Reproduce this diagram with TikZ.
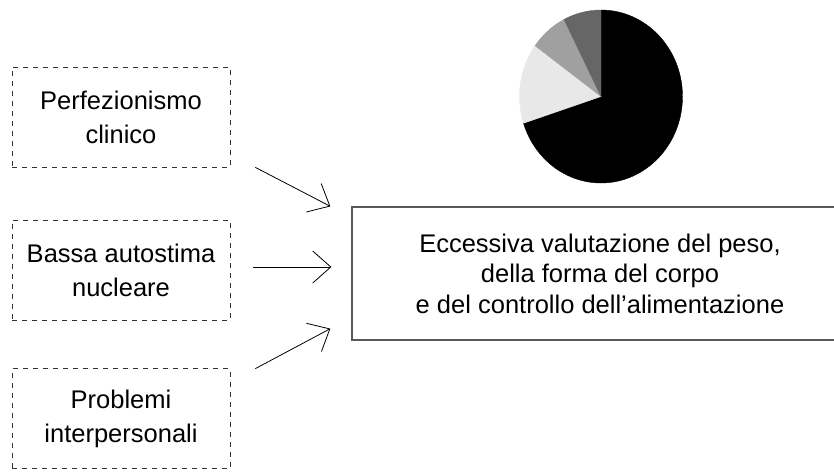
\documentclass[tikz,border=0pt]{standalone}
\usepackage{fontspec}
\setmainfont{Liberation Sans}
\usepackage{xcolor}
\usetikzlibrary{calc, arrows.meta}

\definecolor{sliceA}{HTML}{000000}
\definecolor{sliceB}{HTML}{E8E8E8}
\definecolor{sliceC}{HTML}{A0A0A0}
\definecolor{sliceD}{HTML}{666666}

\tikzset{
	causebox/.style = {draw = black!80, dash pattern = on 5pt off 5pt, line width = 0.8pt,
		minimum width = 218pt, minimum height = 100pt, align = center, inner sep = 0pt,
		font = \fontsize{25.5}{34}\selectfont},
	mainbox/.style = {draw = black!65, line width = 1.3pt,
		minimum width = 496pt, minimum height = 133pt, align = center, inner sep = 0pt,
		font = \fontsize{25.5}{30.5}\selectfont},
	arr/.style = {-{Straight Barb[length = 18pt, width = 32pt]}, line width = 0.8pt}
}

\begin{document}
\begin{tikzpicture}[x = 1pt, y = -1pt]
		\def\cx{601};
		\def\cy{96.5};
		\def\rx{81.5};
		\def\ry{86.5};
		
		\useasboundingbox (0,0) rectangle (834,471);
		
		% torta
		\filldraw [sliceA] (\cx,\cy) -- ({\cx + \rx*cos(90)},{\cy - \ry*sin(90)}) arc [start angle = 90, end angle = -162, x radius = \rx, y radius = -\ry] -- cycle;
		\filldraw [sliceB] (\cx,\cy) -- ({\cx + \rx*cos(198)},{\cy - \ry*sin(198)}) arc [start angle = 198, end angle = 144, x radius = \rx, y radius = -\ry] -- cycle;
		\filldraw [sliceC] (\cx,\cy) -- ({\cx + \rx*cos(144)},{\cy - \ry*sin(144)}) arc [start angle = 144, end angle = 117, x radius = \rx, y radius = -\ry] -- cycle;
		\filldraw [sliceD] (\cx,\cy) -- ({\cx + \rx*cos(117)},{\cy - \ry*sin(117)}) arc [start angle = 117, end angle = 90, x radius = \rx, y radius = -\ry] -- cycle;
		
		\node [causebox] (perf) at (121,117) {Perfezionismo\\clinico};
		\node [causebox] (bassa) at (121,270) {Bassa autostima\\nucleare};
		\node [causebox] (probl) at (121,418.5) {Problemi\\interpersonali};
		
		\node [mainbox] (main) at (600,273.5) {Eccessiva valutazione del peso,\\della forma del corpo\\e del controllo dell'alimentazione};
		
		\draw [arr] ([xshift = 25pt]perf.south east) -- ([xshift = -21pt]main.north west);
		\draw [arr] ([xshift = 23pt, yshift = 3pt]bassa.east) -- ([xshift = -20pt, yshift = 6.5pt]main.west);
		\draw [arr] ([xshift = 25pt, yshift = -0.5pt]probl.north east) -- ([xshift = -21pt, yshift = 12pt]main.south west);
	\end{tikzpicture}
\end{document}
